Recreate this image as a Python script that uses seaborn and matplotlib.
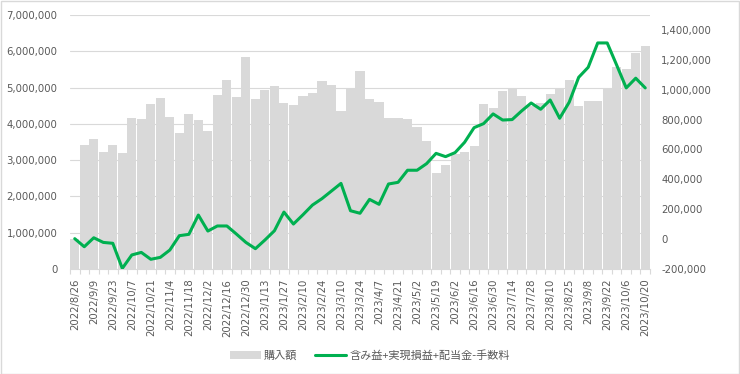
import matplotlib
matplotlib.use("Agg")
import matplotlib.pyplot as plt
from matplotlib.patches import Patch, Rectangle
from matplotlib.lines import Line2D
from matplotlib.ticker import FuncFormatter
import seaborn as sns
import numpy as np
import pandas as pd

# === DATA ===
dates = [
    "2022/8/26", "2022/9/2", "2022/9/9", "2022/9/16", "2022/9/23", "2022/9/30",
    "2022/10/7", "2022/10/14", "2022/10/21", "2022/10/28", "2022/11/4", "2022/11/11",
    "2022/11/18", "2022/11/25", "2022/12/2", "2022/12/9", "2022/12/16", "2022/12/23",
    "2022/12/30", "2023/1/6", "2023/1/13", "2023/1/20", "2023/1/27", "2023/2/3",
    "2023/2/10", "2023/2/17", "2023/2/24", "2023/3/3", "2023/3/10", "2023/3/17",
    "2023/3/24", "2023/3/31", "2023/4/7", "2023/4/14", "2023/4/21", "2023/4/28",
    "2023/5/2", "2023/5/12", "2023/5/19", "2023/5/26", "2023/6/2", "2023/6/9",
    "2023/6/16", "2023/6/23", "2023/6/30", "2023/7/7", "2023/7/14", "2023/7/21",
    "2023/7/28", "2023/8/4", "2023/8/10", "2023/8/18", "2023/8/25", "2023/9/1",
    "2023/9/8", "2023/9/15", "2023/9/22", "2023/9/29", "2023/10/6", "2023/10/13",
    "2023/10/20",
]

# 購入額
purchase = [
    820000, 3420000, 3580000, 3230000, 3420000, 3190000, 4160000, 4140000, 4540000, 4710000,
    4190000, 3740000, 4270000, 4110000, 3810000, 4800000, 5220000, 4740000, 5840000, 4680000,
    4940000, 5030000, 4570000, 4510000, 4770000, 4850000, 5180000, 5070000, 4360000, 5000000,
    5460000, 4690000, 4600000, 4160000, 4160000, 4130000, 3910000, 3520000, 2640000, 2870000,
    3170000, 3220000, 3380000, 4540000, 4430000, 4900000, 5000000, 4770000, 4500000, 4570000,
    4820000, 4980000, 5210000, 4490000, 4640000, 4640000, 4990000, 5560000, 5510000, 5960000,
    6150000,
]

# 含み益+実現損益+配当金-手数料
profit = [
    3000, -51000, 9000, -22000, -28000, -196000, -106000, -89000, -135000, -122000,
    -73000, 23000, 32000, 161000, 54000, 88000, 88000, 34000, -22000, -64000,
    -6000, 56000, 181000, 101000, 163000, 228000, 271000, 322000, 373000, 190000,
    173000, 266000, 233000, 369000, 380000, 461000, 461000, 505000, 574000, 552000,
    579000, 648000, 746000, 773000, 838000, 797000, 800000, 858000, 911000, 869000,
    931000, 809000, 916000, 1083000, 1150000, 1313000, 1313000, 1164000, 1012000, 1077000,
    1012000,
]

bar_label = "購入額"
line_label = "含み益+実現損益+配当金-手数料"

df = pd.DataFrame({"date": dates, "purchase": purchase, "profit": profit})
df["pos"] = np.arange(len(df))

# === STYLE ===
sns.set_theme(style="white")
plt.rcParams["font.family"] = ["DejaVu Sans", "Noto Sans CJK JP"]
TEXT = "#595959"
GRID = "#d9d9d9"
BAR = "#d9d9d9"
GREEN = "#00b050"

fig = plt.figure(figsize=(7.4, 3.74), dpi=100)
ax = fig.add_axes([70 / 740, 1 - 269 / 374, 580 / 740, 254 / 374])

# bars (left axis)
sns.barplot(data=df, x="date", y="purchase", color=BAR, saturation=1,
            width=0.96, linewidth=0, ax=ax, order=dates)
ax.set_xlim(-0.5, len(dates) - 0.5)
ax.set_ylim(0, 7000000)
ax.set_yticks(np.arange(0, 7000001, 1000000))
ax.yaxis.set_major_formatter(FuncFormatter(lambda v, p: f"{v:,.0f}"))
ax.grid(axis="y", color=GRID, linewidth=0.8)
ax.set_axisbelow(True)
ax.set_xlabel("")
ax.set_ylabel("")

# line (right axis)
ax2 = ax.twinx()
sns.lineplot(data=df, x="pos", y="profit", color=GREEN, linewidth=2.2, ax=ax2)
ax2.set_ylim(-200000, 1500000)
ax2.set_yticks(np.arange(-200000, 1400001, 200000))
ax2.yaxis.set_major_formatter(FuncFormatter(lambda v, p: f"{v:,.0f}"))
ax2.set_xlim(-0.5, len(dates) - 0.5)
ax2.set_xlabel("")
ax2.set_ylabel("")
ax2.grid(False)

# x ticks: every other label, tick marks between categories
ax.set_xticks(np.arange(0, len(dates), 2))
ax.set_xticklabels(dates[::2], rotation=90, fontsize=7.3, color=TEXT)
ax.set_xticks(np.arange(-0.5, len(dates), 1), minor=True)
ax.tick_params(axis="x", which="major", length=0, pad=7)
ax.tick_params(axis="x", which="minor", length=3.5, width=0.8, color=GRID, bottom=True)
ax.tick_params(axis="y", length=0, labelsize=7.3, labelcolor=TEXT, pad=9)
ax2.tick_params(axis="y", length=0, labelsize=7.3, labelcolor=TEXT, pad=8)

for a in (ax, ax2):
    for s in ("top", "left", "right"):
        a.spines[s].set_visible(False)
ax2.spines["bottom"].set_visible(False)
ax.spines["bottom"].set_color(GRID)
ax.spines["bottom"].set_linewidth(0.8)

# legend at the bottom
handles = [
    Patch(facecolor=BAR, edgecolor="none", label=bar_label),
    Line2D([0], [0], color=GREEN, linewidth=2.2, label=line_label),
]
fig.legend(handles=handles, loc="center", bbox_to_anchor=(0.5, 0.05), ncol=2,
           frameon=False, handlelength=2.8, handleheight=0.7, handletextpad=0.3,
           columnspacing=1.6, prop={"family": ["Noto Sans CJK JP", "DejaVu Sans"], "size": 8},
           labelcolor=TEXT)

# chart area border
fig.add_artist(Rectangle((0.001, 0.001), 0.998, 0.997, transform=fig.transFigure,
                         fill=False, edgecolor=GRID, linewidth=1))

fig.savefig("out.png", dpi=100)
